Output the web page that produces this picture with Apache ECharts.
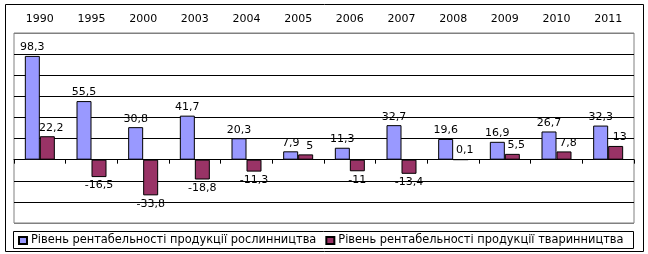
<!DOCTYPE html>
<html><head><meta charset="utf-8">
<script src="https://cdn.jsdelivr.net/npm/echarts@6/dist/echarts.min.js"></script>
<style>html,body{margin:0;padding:0;background:#fff}#c{width:648px;height:254px}</style>
</head><body><div id="c"></div>
<script>
var years = ['1990','1995','2000','2003','2004','2005','2006','2007','2008','2009','2010','2011'];
var cropValues = [98.3, 55.5, 30.8, 41.7, 20.3, 7.9, 11.3, 32.7, 19.6, 16.9, 26.7, 32.3];
var livestockValues = [22.2, -16.5, -33.8, -18.8, -11.3, 5, -11, -13.4, 0.1, 5.5, 7.8, 13];
var seriesNames = ['Рівень рентабельності продукції рослинництва', 'Рівень рентабельності продукції тваринництва'];
var yMin = -60, yMax = 120, yStep = 20;

var FONT = 'DejaVu Sans';
function fmt(v){ return String(v).replace('.', ','); }
function items(arr, shiftPos){
  return arr.map(function(v){
    var lab = {position: v < 0 ? 'bottom' : 'top'};
    if (shiftPos && v >= 0) lab.offset = [4, 0];
    return {value: v, label: lab};
  });
}
var nLines = (yMax - yMin) / yStep + 1;
var splitColors = [];
for (var i = 0; i < nLines; i++) splitColors.push(i === 0 || i === nLines - 1 ? '#808080' : '#000000');

var chart = echarts.init(document.getElementById('c'), null, {renderer: 'canvas'});
chart.setOption({
  animation: false,
  backgroundColor: '#ffffff',
  textStyle: {fontFamily: FONT, color: '#000'},
  grid: {left: 14, right: 14, top: 33, bottom: 31, show: true, borderColor: '#808080', borderWidth: 1, backgroundColor: 'transparent'},
  graphic: [
    {type: 'rect', shape: {x: 5.5, y: 4.5, width: 638, height: 247}, style: {fill: 'none', stroke: '#000', lineWidth: 1}, z: -1},
    {type: 'rect', shape: {x: 13.5, y: 231.5, width: 620, height: 17}, style: {fill: 'none', stroke: '#000', lineWidth: 1}, z: -1}
  ],
  legend: {
    left: 15, top: 231, padding: [4, 3],
    itemWidth: 8, itemHeight: 7, itemGap: 9,
    icon: 'rect',
    textStyle: {fontFamily: FONT, fontSize: 11.4, color: '#000', padding: [0, 0, 0, -1]},
    data: seriesNames
  },
  xAxis: [
    {type: 'category', data: years, position: 'top', gridIndex: 0,
     axisLine: {show: false, onZero: false}, axisTick: {show: false},
     axisLabel: {fontFamily: FONT, fontSize: 11, color: '#000', margin: 8}},
    {type: 'category', data: years, position: 'bottom', gridIndex: 0,
     axisLine: {show: true, onZero: true, lineStyle: {color: '#000', width: 1}},
     axisTick: {show: true, length: 4, lineStyle: {color: '#000'}},
     axisLabel: {show: false}}
  ],
  yAxis: {type: 'value', min: yMin, max: yMax, interval: yStep,
    axisLine: {show: false}, axisTick: {show: false}, axisLabel: {show: false},
    splitLine: {show: true, lineStyle: {color: splitColors, width: 1}}},
  series: [
    {name: seriesNames[0], type: 'bar', xAxisIndex: 1, data: items(cropValues, false),
     barWidth: 15, barGap: '0%',
     itemStyle: {color: '#9999FF', borderColor: '#000', borderWidth: 1},
     label: {show: true, distance: 3, fontFamily: FONT, fontSize: 11, color: '#000',
       formatter: function(p){ return fmt(p.value); }}},
    {name: seriesNames[1], type: 'bar', xAxisIndex: 1, data: items(livestockValues, true),
     barWidth: 15, barGap: '0%',
     itemStyle: {color: '#993366', borderColor: '#000', borderWidth: 1},
     label: {show: true, distance: 3, fontFamily: FONT, fontSize: 11, color: '#000',
       formatter: function(p){ return fmt(p.value); }}}
  ]
});
</script></body></html>
